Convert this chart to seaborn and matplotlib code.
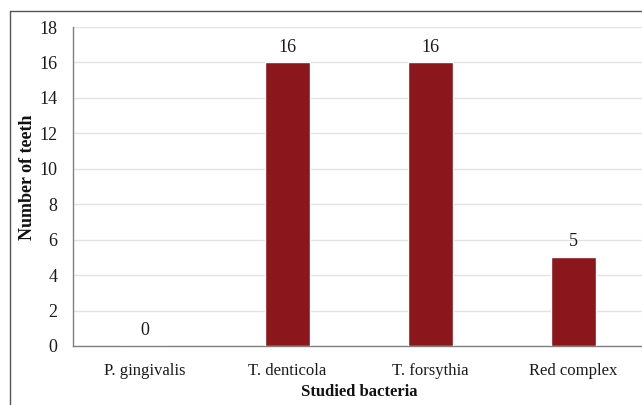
import matplotlib
matplotlib.use("Agg")
import matplotlib.pyplot as plt
from matplotlib.lines import Line2D
import seaborn as sns
import pandas as pd

bacteria = ["P. gingivalis", "T. denticola", "T. forsythia", "Red complex"]
teeth = [0, 16, 16, 5]
y_ticks = [0, 2, 4, 6, 8, 10, 12, 14, 16, 18]

sns.set_theme(style="white")
plt.rcParams["font.family"] = ["Liberation Serif", "DejaVu Serif"]

df = pd.DataFrame({"bacteria": bacteria, "teeth": teeth})

W, H = 642, 405
fig = plt.figure(figsize=(W / 100, H / 100), dpi=100)
fig.patch.set_facecolor("white")

# outer frame of the figure, running off the right and bottom edges
fx, fy = 9.5 / W, (H - 10.5) / H
fig.lines.append(Line2D([fx, fx], [-0.1, fy], transform=fig.transFigure,
                        color="#555555", linewidth=1.0))
fig.lines.append(Line2D([fx, 1.1], [fy, fy], transform=fig.transFigure,
                        color="#555555", linewidth=1.0))

ax = fig.add_axes([73 / W, (H - 346) / H, 572 / W, 319 / H])
sns.barplot(data=df, x="bacteria", y="teeth", color="#8B161C",
            width=0.315, saturation=1, ax=ax, zorder=3)

ax.set_ylim(0, 18)
ax.set_yticks(y_ticks)
ax.set_xlim(-0.5, 3.5)
ax.yaxis.grid(True, color="#e2e2e2", linewidth=1.0, zorder=0)
ax.set_axisbelow(True)

for s in ["top", "right"]:
    ax.spines[s].set_visible(False)
for s in ["left", "bottom"]:
    ax.spines[s].set_color("#808080")
    ax.spines[s].set_linewidth(1.0)

ax.tick_params(axis="y", length=0, pad=11, labelsize=13, labelcolor="#1a1a1a")
ax.tick_params(axis="x", length=0, pad=12, labelsize=12, labelcolor="#1a1a1a")

ax.set_xlabel("Studied bacteria", fontsize=12, fontweight="bold",
              color="#111111")
ax.xaxis.set_label_coords(0.5, -38 / 319, transform=ax.transAxes)
ax.set_ylabel("Number of teeth", fontsize=13, fontweight="bold",
              color="#111111")
ax.yaxis.set_label_coords(-37 / 572, 0.53, transform=ax.transAxes)

for container in ax.containers:
    ax.bar_label(container, labels=[str(v) for v in teeth], padding=5,
                 fontsize=13, color="#1a1a1a")

fig.savefig("out.png", dpi=100)
